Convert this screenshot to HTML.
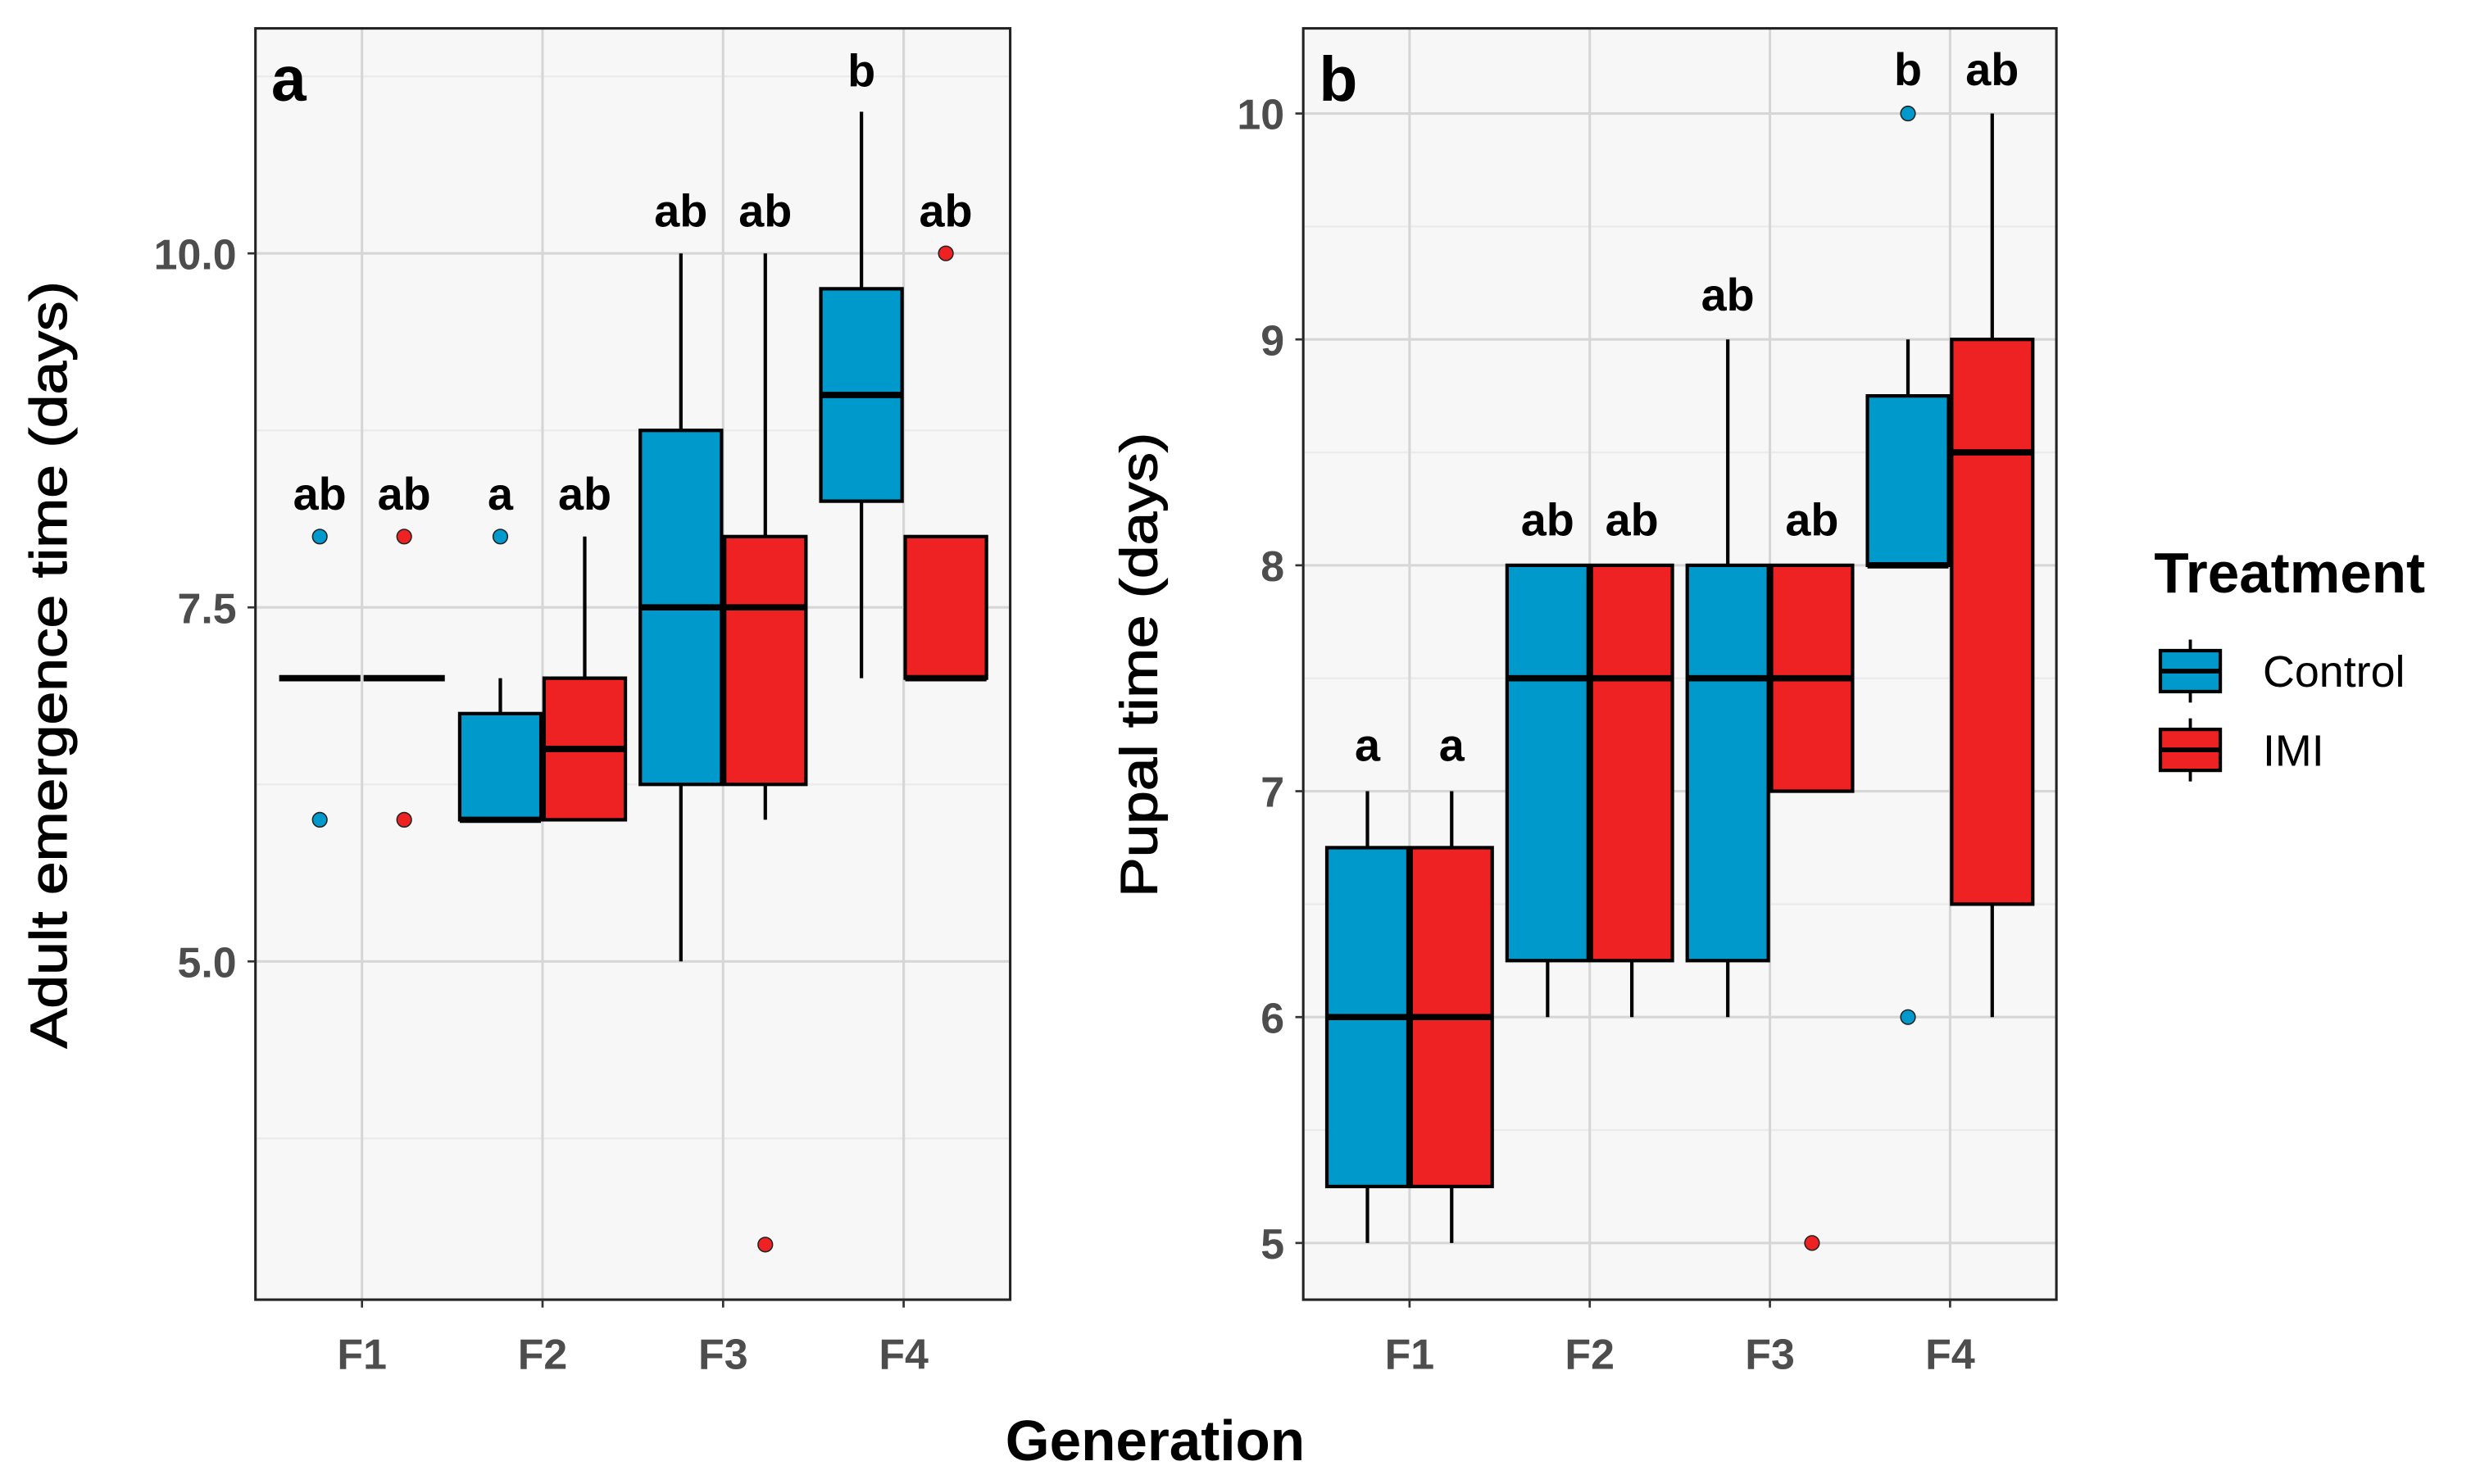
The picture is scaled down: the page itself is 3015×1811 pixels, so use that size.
<!DOCTYPE html>
<html><head><meta charset="utf-8"><style>
html,body{margin:0;padding:0;background:#fff;}
svg{display:block;font-family:"Liberation Sans",Arial,sans-serif;}
</style></head><body>
<svg id="chart" width="3015" height="1811" viewBox="0 0 1568 942" xmlns="http://www.w3.org/2000/svg"></svg>
<script>
const generations = ["F1","F2","F3","F4"];
const treatments = ["Control","IMI"];
const colors = ["#0099CC","#EE2222"];
// panel a: [q1, median, q3, whiskerLow, whiskerHigh]
const aControl = [[7,7,7,7,7],[6,6,6.75,6,7],[6.25,7.5,8.75,5,10],[8.25,9,9.75,7,11]];
const aIMI = [[7,7,7,7,7],[6,6.5,7,6,8],[6.25,7.5,8,6,10],[7,7,8,7,8]];
const aOutControl = [[8,6],[8],[],[]];
const aOutIMI = [[8,6],[],[3],[10]];
const aLetControl = ["ab","a","ab","b"];
const aLetIMI = ["ab","ab","ab","ab"];
const aLetYControl = [8.19,8.19,10.19,11.18];
const aLetYIMI = [8.19,8.19,10.19,10.19];
const aTicks = [5.0,7.5,10.0];
const aTickLabels = ["5.0","7.5","10.0"];
// panel b
const bControl = [[5.25,6,6.75,5,7],[6.25,7.5,8,6,8],[6.25,7.5,8,6,9],[8,8,8.75,8,9]];
const bIMI = [[5.25,6,6.75,5,7],[6.25,7.5,8,6,8],[7,7.5,8,7,8],[6.5,8.5,9,6,10]];
const bOutControl = [[],[],[],[10,6]];
const bOutIMI = [[],[],[5],[]];
const bLetControl = ["a","ab","ab","b"];
const bLetIMI = ["a","ab","ab","ab"];
const bLetYControl = [7.134,8.131,9.128,10.126];
const bLetYIMI = [7.134,8.131,8.131,10.126];
const bTicks = [5,6,7,8,9,10];
const bTickLabels = ["5","6","7","8","9","10"];

const svg = document.getElementById('chart');
const NS = "http://www.w3.org/2000/svg";
function mk(tag, attrs, parent){
  const e = document.createElementNS(NS, tag);
  for (const k in attrs) e.setAttribute(k, attrs[k]);
  (parent||svg).appendChild(e);
  return e;
}

function panel(cfg){
  const g = mk('g', {});
  
  
  const {L,R,T,B,ymin,ymax} = cfg;
  const y = v => B - (v - ymin) / (ymax - ymin) * (B - T);
  const step = (R - L) / 4.18;
  const x0 = L + (R - L) / 2 - step * 1.5;
  const x = i => x0 + i * step;
  const bw = step * 0.45;
  const bg = mk('rect', {x:L,y:T,width:R-L,height:B-T,fill:'#f7f7f7'}, g);
  
  
  cfg.minor.forEach(v=>{ mk('line',{x1:L,x2:R,y1:y(v),y2:y(v),stroke:'#ebebeb','stroke-width':1.2},g); });
  cfg.ticks.forEach(v=>{ mk('line',{x1:L,x2:R,y1:y(v),y2:y(v),stroke:'#d6d6d6','stroke-width':1.6},g); });
  generations.forEach((gn,i)=>{ mk('line',{x1:x(i),x2:x(i),y1:T,y2:B,stroke:'#d6d6d6','stroke-width':1.6},g); });
  [cfg.ctrl, cfg.imi].forEach((series, s)=>{
    series.forEach((d,i)=>{
      const cx = x(i) + (s===0?-1:1) * (bw/2 + 1);
      const bg2 = mk('g',{},g);
      
      
      mk('line',{x1:cx,x2:cx,y1:y(d[4]),y2:y(d[2]),stroke:'#000','stroke-width':2.2},bg2);
      mk('line',{x1:cx,x2:cx,y1:y(d[0]),y2:y(d[3]),stroke:'#000','stroke-width':2.2},bg2);
      if (d[2] > d[0]) {
        mk('rect',{x:cx-bw/2,y:y(d[2]),width:bw,height:y(d[0])-y(d[2]),fill:colors[s],stroke:'#000','stroke-width':2.2},bg2);
      }
      mk('line',{x1:cx-bw/2,x2:cx+bw/2,y1:y(d[1]),y2:y(d[1]),stroke:'#000','stroke-width':4},bg2);
    });
  });
  [cfg.outC, cfg.outI].forEach((series, s)=>{
    series.forEach((arr,i)=>{
      const cx = x(i) + (s===0?-1:1) * (bw/2+1);
      arr.forEach(v=>{
        const c = mk('circle',{cx:cx,cy:y(v),r:4.6,fill:colors[s],stroke:'#222','stroke-width':0.8},g);
        
        
      });
    });
  });
  [[cfg.letC,cfg.letYC],[cfg.letI,cfg.letYI]].forEach((pair,s)=>{
    pair[0].forEach((t,i)=>{
      const cx = x(i) + (s===0?-1:1) * (bw/2+1);
      const tx = mk('text',{x:cx,y:y(pair[1][i]),'text-anchor':'middle','font-size':29,'font-weight':'bold',fill:'#000'},g);
      tx.textContent = t;
      
      
    });
  });
  mk('rect',{x:L,y:T,width:R-L,height:B-T,fill:'none',stroke:'#222','stroke-width':1.6},g);
  cfg.ticks.forEach((v,k)=>{
    mk('line',{x1:L-5,x2:L,y1:y(v),y2:y(v),stroke:'#333','stroke-width':1.4},g);
    const t = mk('text',{x:L-12,y:y(v)+10,'text-anchor':'end','font-size':27,'font-weight':'bold',fill:'#4d4d4d'},g);
    t.textContent = cfg.tickLabels[k];
    
    
  });
  generations.forEach((gn,i)=>{
    mk('line',{x1:x(i),x2:x(i),y1:B,y2:B+5,stroke:'#333','stroke-width':1.4},g);
    const t = mk('text',{x:x(i),y:B+44,'text-anchor':'middle','font-size':27,'font-weight':'bold',fill:'#4d4d4d'},g);
    t.textContent = gn;
    
    
  });
  const tag = mk('text',{x:L+10,y:T+46,'font-size':40,'font-weight':'bold',fill:'#000'},g);
  tag.textContent = cfg.tag;
  
  
  const yt = mk('text',{x:0,y:0,'text-anchor':'middle','font-size':33,fill:'#000',stroke:'#000','stroke-width':0.6,textLength:cfg.ylen,lengthAdjust:'spacingAndGlyphs',transform:'translate('+cfg.ytx+',422) rotate(-90)'},g);
  yt.textContent = cfg.ytitle;
  
  
}

panel({name:'panel-a',tag:'a',L:162,R:641,T:18,B:825,ymin:2.611,ymax:11.589,
  ticks:aTicks,tickLabels:aTickLabels,minor:[3.75,6.25,8.75,11.25],
  ctrl:aControl,imi:aIMI,outC:aOutControl,outI:aOutIMI,
  letC:aLetControl,letI:aLetIMI,letYC:aLetYControl,letYI:aLetYIMI,
  ytx:42,ylen:487,ytitle:'Adult emergence time (days)'});
panel({name:'panel-b',tag:'b',L:827,R:1305,T:18,B:825,ymin:4.749,ymax:10.377,
  ticks:bTicks,tickLabels:bTickLabels,minor:[5.5,6.5,7.5,8.5,9.5],
  ctrl:bControl,imi:bIMI,outC:bOutControl,outI:bOutIMI,
  letC:bLetControl,letI:bLetIMI,letYC:bLetYControl,letYI:bLetYIMI,
  ytx:734,ylen:295,ytitle:'Pupal time (days)'});

const xt = mk('text',{x:733,y:927,'text-anchor':'middle','font-size':36,'font-weight':'bold',fill:'#000'});
xt.textContent = 'Generation';



const lg = mk('g',{});


const lt = mk('text',{x:1367,y:376,'font-size':36,'font-weight':'bold',fill:'#000'},lg);
lt.textContent = 'Treatment';


treatments.forEach((tr,s)=>{
  const cy = 426 + s*50;
  const e = mk('g',{},lg);
  
  
  mk('line',{x1:1390,x2:1390,y1:cy-20,y2:cy+20,stroke:'#000','stroke-width':2},e);
  mk('rect',{x:1371,y:cy-13,width:38,height:26,fill:colors[s],stroke:'#000','stroke-width':2.2},e);
  mk('line',{x1:1371,x2:1409,y1:cy,y2:cy,stroke:'#000','stroke-width':3},e);
  const t = mk('text',{x:1436,y:cy+10,'font-size':28,fill:'#000'},e);
  t.textContent = tr;
});
</script>
</body></html>
